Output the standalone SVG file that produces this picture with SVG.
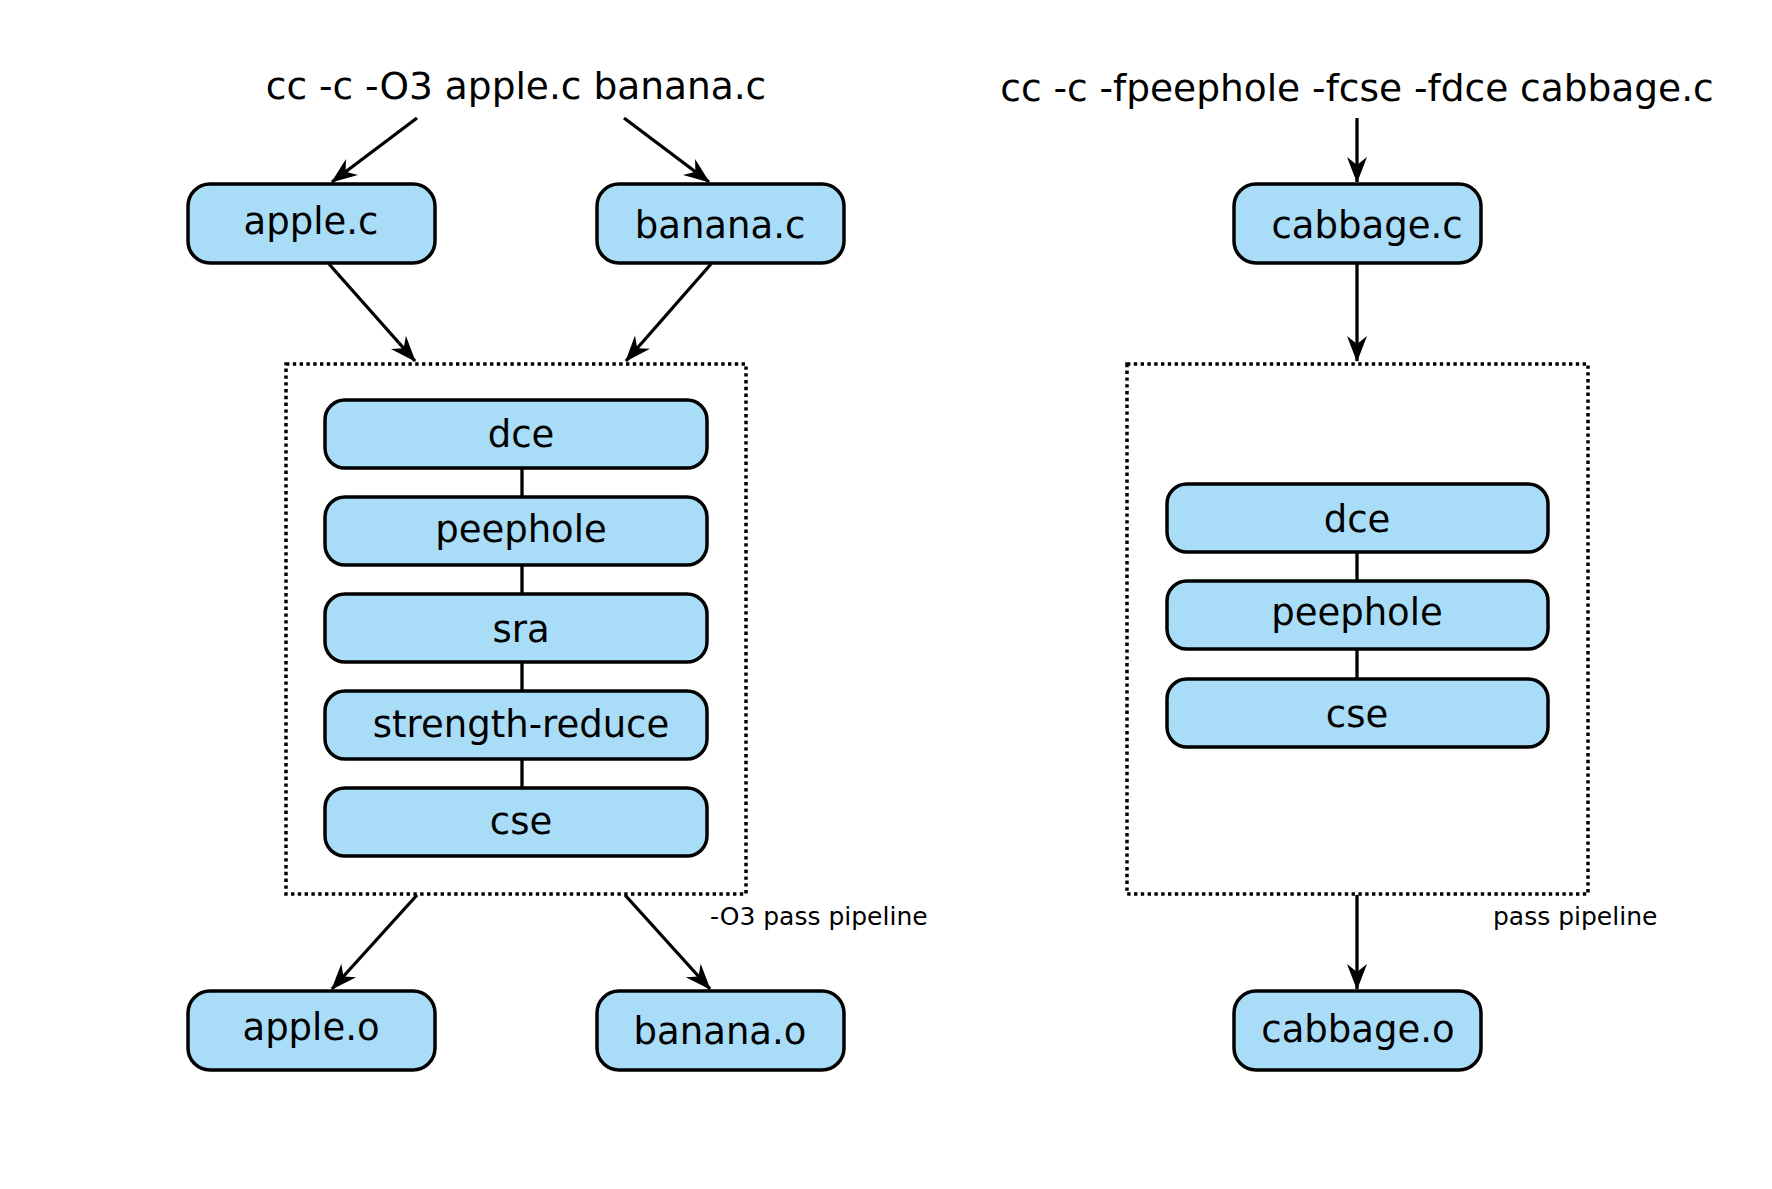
<svg xmlns="http://www.w3.org/2000/svg" width="1772" height="1189" viewBox="0 0 1772 1189">
<style>
.n{fill:#a9dcf7;stroke:#000;stroke-width:3.5}
.t{font-family:"DejaVu Sans","Liberation Sans",sans-serif;font-size:37px;fill:#000;text-anchor:middle}
.s{font-family:"DejaVu Sans","Liberation Sans",sans-serif;font-size:25px;fill:#000}
.c{stroke:#000;stroke-width:3.3;fill:none}
.a{stroke:#000;stroke-width:3.3;fill:none;marker-end:url(#ah)}
.d{fill:none;stroke:#000;stroke-width:3.5;stroke-dasharray:3.4 3.4}
</style>
<defs>
<marker id="ah" markerUnits="userSpaceOnUse" markerWidth="40" markerHeight="40" viewBox="-30 -15 40 30" refX="0" refY="0" orient="auto">
<path d="M1,0 L-25,-10 L-17,0 L-25,10 Z" fill="#000"/>
</marker>
</defs>
<rect width="1772" height="1189" fill="#fff"/>
<text class="t" x="516" y="99" style="font-size:37.5px">cc -c -O3 apple.c banana.c</text>
<text class="t" x="1357" y="101" style="font-size:37.5px">cc -c -fpeephole -fcse -fdce cabbage.c</text>
<g id="connectors">
<line class="a" x1="417" y1="118" x2="332" y2="182"/>
<line class="a" x1="624" y1="118" x2="709" y2="182"/>
<line class="a" x1="1357" y1="118" x2="1357" y2="182"/>
<line class="a" x1="329" y1="264" x2="415" y2="361"/>
<line class="a" x1="711" y1="264" x2="626" y2="361"/>
<line class="a" x1="1357" y1="264" x2="1357" y2="361"/>
<line class="a" x1="417" y1="895" x2="332" y2="989"/>
<line class="a" x1="625" y1="895" x2="710" y2="989"/>
<line class="a" x1="1357" y1="895" x2="1357" y2="989"/>
<line class="c" x1="522" y1="468" x2="522" y2="497"/>
<line class="c" x1="522" y1="565" x2="522" y2="594"/>
<line class="c" x1="522" y1="662" x2="522" y2="691"/>
<line class="c" x1="522" y1="759" x2="522" y2="788"/>
<line class="c" x1="1357" y1="552" x2="1357" y2="581"/>
<line class="c" x1="1357" y1="649" x2="1357" y2="679"/>
</g>
<g id="pipeline-o3">
<rect class="d" x="286" y="364" width="460" height="530"/>
<text class="s" x="710" y="925">-O3 pass pipeline</text>
</g>
<g id="pipeline-custom">
<rect class="d" x="1127" y="364" width="461" height="530"/>
<text class="s" x="1493" y="925">pass pipeline</text>
</g>
<g id="apple-c"><rect class="n" x="188" y="184" width="247" height="79" rx="22"/><text class="t" x="311" y="234">apple.c</text></g>
<g id="banana-c"><rect class="n" x="597" y="184" width="247" height="79" rx="22"/><text class="t" x="720" y="238">banana.c</text></g>
<g id="cabbage-c"><rect class="n" x="1234" y="184" width="247" height="79" rx="22"/><text class="t" x="1367" y="238">cabbage.c</text></g>
<g id="apple-o"><rect class="n" x="188" y="991" width="247" height="79" rx="22"/><text class="t" x="311" y="1040">apple.o</text></g>
<g id="banana-o"><rect class="n" x="597" y="991" width="247" height="79" rx="22"/><text class="t" x="720" y="1044">banana.o</text></g>
<g id="cabbage-o"><rect class="n" x="1234" y="991" width="247" height="79" rx="22"/><text class="t" x="1358" y="1042">cabbage.o</text></g>
<g id="l-dce"><rect class="n" x="325" y="400" width="382" height="68" rx="20"/><text class="t" x="521" y="447">dce</text></g>
<g id="l-peephole"><rect class="n" x="325" y="497" width="382" height="68" rx="20"/><text class="t" x="521" y="542">peephole</text></g>
<g id="l-sra"><rect class="n" x="325" y="594" width="382" height="68" rx="20"/><text class="t" x="521" y="642">sra</text></g>
<g id="l-strength-reduce"><rect class="n" x="325" y="691" width="382" height="68" rx="20"/><text class="t" x="521" y="737">strength-reduce</text></g>
<g id="l-cse"><rect class="n" x="325" y="788" width="382" height="68" rx="20"/><text class="t" x="521" y="834">cse</text></g>
<g id="r-dce"><rect class="n" x="1167" y="484" width="381" height="68" rx="20"/><text class="t" x="1357" y="532">dce</text></g>
<g id="r-peephole"><rect class="n" x="1167" y="581" width="381" height="68" rx="20"/><text class="t" x="1357" y="625">peephole</text></g>
<g id="r-cse"><rect class="n" x="1167" y="679" width="381" height="68" rx="20"/><text class="t" x="1357" y="727">cse</text></g>
</svg>
